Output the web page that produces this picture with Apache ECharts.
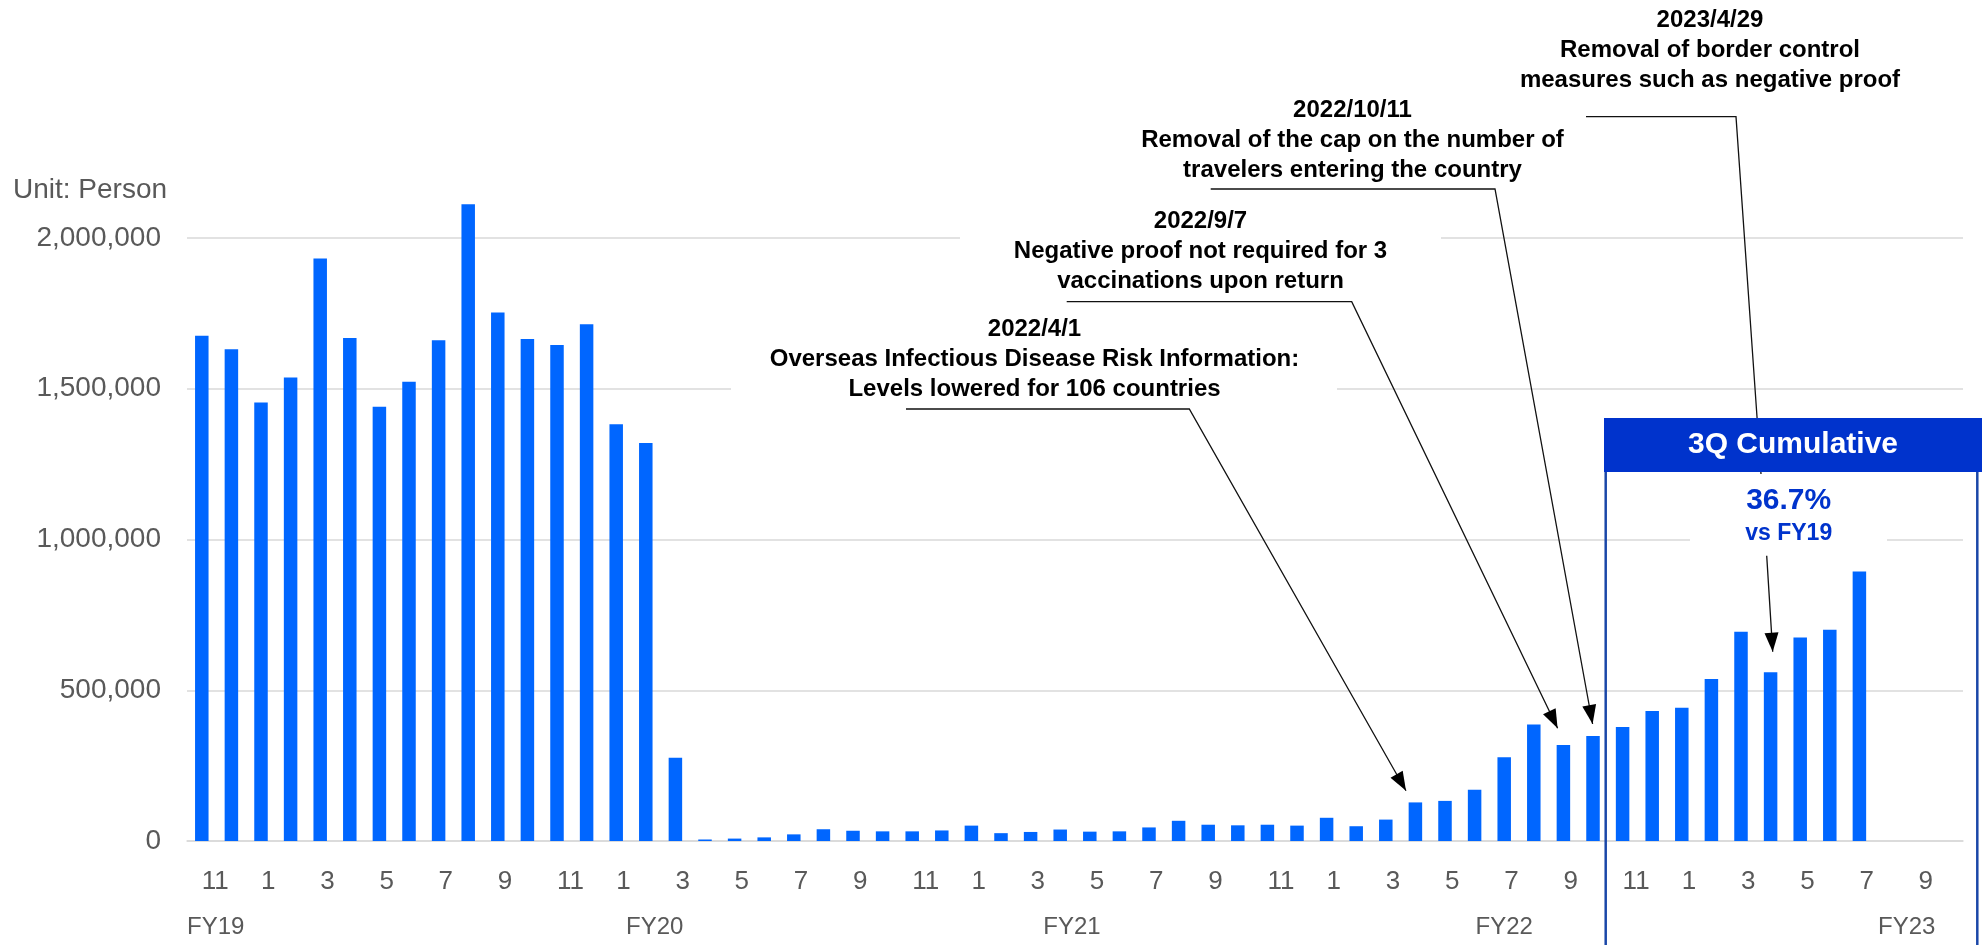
<!DOCTYPE html>
<html>
<head>
<meta charset="utf-8">
<script src="https://cdn.jsdelivr.net/npm/echarts@6/dist/echarts.min.js"></script>
<style>
html,body{margin:0;padding:0;background:#fff;}
#chart{width:1982px;height:945px;}
</style>
</head>
<body>
<div id="chart"></div>
<script>
// Month labels (Nov 2018 ... Oct 2023)
var months = ['11','12','1','2','3','4','5','6','7','8','9','10',
              '11','12','1','2','3','4','5','6','7','8','9','10',
              '11','12','1','2','3','4','5','6','7','8','9','10',
              '11','12','1','2','3','4','5','6','7','8','9','10',
              '11','12','1','2','3','4','5','6','7','8','9','10'];
// Monthly passengers (persons)
var passengers = [1676000,1631000,1454000,1537000,1932000,1668000,1440000,1523000,1661000,2112000,
                  1753000,1665000,1645000,1714000,1382000,1320000,276000,5000,8000,12000,
                  22000,39000,34000,32000,32000,35000,51000,26000,30000,38000,
                  31000,32000,45000,67000,54000,52000,54000,51000,77000,49000,
                  71000,128000,133000,170000,278000,386000,318000,348000,378000,431000,
                  442000,537000,694000,560000,675000,701000,894000];
// Fiscal year labels and their positions along the category axis
var fyLabels = ['FY19','FY20','FY21','FY22','FY23'];
var fyAt = [0.47, 15.3, 29.4, 44.0, 57.6];
var yTicks = [0, 500000, 1000000, 1500000, 2000000];

var chart = echarts.init(document.getElementById('chart'));
var FONT = '"Liberation Sans", Arial, sans-serif';

chart.setOption({
  animation: false,
  textStyle: {fontFamily: FONT},
  grid: {left: 187, right: 19, top: 238, bottom: 104},
  xAxis: {
    type: 'category',
    data: months,
    axisLine: {show: true, lineStyle: {color: '#d9d9d9', width: 1.5}},
    axisTick: {show: false},
    axisLabel: {interval: 1, align: 'left', margin: 28, fontSize: 26, color: '#595959', fontFamily: FONT}
  },
  yAxis: {
    type: 'value',
    min: yTicks[0], max: yTicks[yTicks.length - 1], interval: yTicks[1] - yTicks[0],
    axisLine: {show: false},
    axisTick: {show: false},
    splitLine: {lineStyle: {color: '#d9d9d9', width: 1.5}},
    axisLabel: {margin: 26, fontSize: 28, color: '#595959', fontFamily: FONT,
      formatter: function (v) { return v.toLocaleString('en-US'); }}
  },
  series: [{
    type: 'bar',
    data: passengers,
    barWidth: 13.5,
    clip: false,
    itemStyle: {color: '#0066ff'}
  }]
});

function arrowHead(fx, fy, tx, ty, L, W) {
  var dx = tx - fx, dy = ty - fy, len = Math.sqrt(dx * dx + dy * dy);
  var ux = dx / len, uy = dy / len;
  var bx = tx - ux * L, by = ty - uy * L;
  return {type: 'polygon', z: 20, shape: {points: [[tx, ty], [bx - uy * W, by + ux * W], [bx + uy * W, by - ux * W]]},
    style: {fill: '#000'}};
}
function leader(pts, tip) {
  var els = [{type: 'polyline', z: 20, shape: {points: pts}, style: {stroke: '#111', lineWidth: 1.3, fill: null}}];
  if (tip) {
    var a = pts[pts.length - 2], b = pts[pts.length - 1];
    els.push(arrowHead(a[0], a[1], b[0], b[1], 19, 7));
  }
  return els;
}
function annText(x, y, txt, size, color, z) {
  return {type: 'text', z: z || 30, x: x, y: y,
    style: {text: txt, fill: color || '#000', font: 'bold ' + (size || 24) + 'px ' + FONT,
      align: 'center', verticalAlign: 'middle', lineHeight: 30}};
}

var g = [];
// white backgrounds behind annotation texts
g.push({type: 'rect', z: 10, shape: {x: 960, y: 205, width: 481, height: 93}, style: {fill: '#fff'}});
g.push({type: 'rect', z: 10, shape: {x: 731, y: 315, width: 606, height: 88}, style: {fill: '#fff'}});
g.push({type: 'rect', z: 10, shape: {x: 1690, y: 478, width: 197, height: 74}, style: {fill: '#fff'}});

// annotation texts
g.push(annText(1710, 50, '2023/4/29\nRemoval of border control\nmeasures such as negative proof'));
g.push(annText(1352.5, 140, '2022/10/11\nRemoval of the cap on the number of\ntravelers entering the country'));
g.push(annText(1200.5, 251.7, '2022/9/7\nNegative proof not required for 3\nvaccinations upon return'));
g.push(annText(1034.5, 359.5, '2022/4/1\nOverseas Infectious Disease Risk Information:\nLevels lowered for 106 countries'));

// leaders
g = g.concat(leader([[1586, 116.7], [1736, 116.7], [1761, 474]], false));
g = g.concat(leader([[1210.7, 189], [1495, 189], [1592.6, 724]], true));
g = g.concat(leader([[1066.7, 301.7], [1351.7, 301.7], [1557.6, 728.3]], true));
g = g.concat(leader([[906, 409], [1189.3, 409], [1406, 790.7]], true));
g = g.concat(leader([[1766.7, 555.7], [1772.7, 651.7]], true));

// 3Q cumulative box
g.push({type: 'rect', z: 40, shape: {x: 1604, y: 418, width: 378, height: 54}, style: {fill: '#0033cc'}});
g.push({type: 'text', z: 41, x: 1793, y: 445, style: {text: '3Q Cumulative', fill: '#fff', font: 'bold 30px ' + FONT, align: 'center', verticalAlign: 'middle'}});
g.push({type: 'line', z: 40, shape: {x1: 1605.7, y1: 472, x2: 1605.7, y2: 945}, style: {stroke: '#1a47a8', lineWidth: 2.5}});
g.push({type: 'line', z: 40, shape: {x1: 1977.3, y1: 472, x2: 1977.3, y2: 945}, style: {stroke: '#1a47a8', lineWidth: 2.5}});
g.push({type: 'text', z: 41, x: 1788.7, y: 500.7, style: {text: '36.7%', fill: '#0033cc', font: 'bold 30px ' + FONT, align: 'center', verticalAlign: 'middle'}});
g.push({type: 'text', z: 41, x: 1788.7, y: 533.3, style: {text: 'vs FY19', fill: '#0033cc', font: 'bold 23px ' + FONT, align: 'center', verticalAlign: 'middle'}});

// unit label
g.push({type: 'text', z: 30, x: 13, y: 190, style: {text: 'Unit: Person', fill: '#595959', font: '28px ' + FONT, align: 'left', verticalAlign: 'middle'}});

// fiscal-year labels
var p0 = chart.convertToPixel({xAxisIndex: 0}, 0);
var p1 = chart.convertToPixel({xAxisIndex: 0}, 1);
var step = p1 - p0;
for (var i = 0; i < fyLabels.length; i++) {
  g.push({type: 'text', z: 30, x: p0 + fyAt[i] * step, y: 927.5,
    style: {text: fyLabels[i], fill: '#595959', font: '24px ' + FONT, align: 'center', verticalAlign: 'middle'}});
}

chart.setOption({graphic: {elements: g}});
</script>
</body>
</html>
